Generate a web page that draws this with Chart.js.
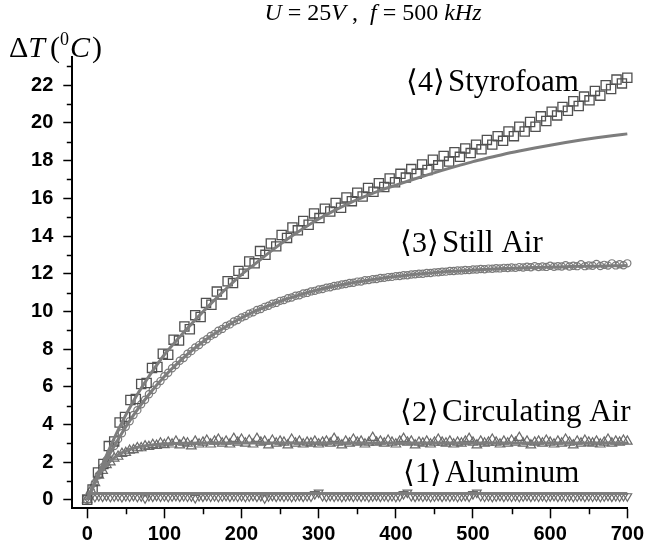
<!DOCTYPE html>
<html>
<head>
<meta charset="utf-8">
<script src="https://cdn.jsdelivr.net/npm/chart.js@4.4.1/dist/chart.umd.min.js"></script>
<style>
  html, body { margin: 0; padding: 0; background: #fff; }
  #wrap { width: 648px; height: 546px; }
</style>
</head>
<body>
<div id="wrap"><canvas id="c" width="648" height="546"></canvas></div>
<script>
// Sampling intervals (s) of the measured series
const STEP_STYRO = 7;
const STEP = 5;

// <4> Styrofoam, measured ΔT every 7 s
const styrofoam = [
  0, 0.55, 1.45, 1.9, 2.85, 3.1, 4.1, 4.4, 5.3, 5.35,
  6.15, 6.2, 7.0, 7.05, 7.75, 7.7, 8.5, 8.45, 9.2, 9.05,
  9.8, 9.7, 10.45, 10.35, 11.05, 10.9, 11.6, 11.5, 12.15, 12.0,
  12.65, 12.55, 13.2, 13.0, 13.6, 13.45, 14.05, 13.9, 14.45, 14.3,
  14.8, 14.6, 15.2, 14.95, 15.45, 15.3, 15.75, 15.5, 16.05, 15.85,
  16.3, 16.1, 16.55, 16.35, 16.8, 16.6, 17.05, 16.85, 17.3, 17.1,
  17.55, 17.3, 17.8, 17.5, 18.05, 17.75, 18.25, 17.95, 18.45, 18.2,
  18.65, 18.4, 18.85, 18.6, 19.1, 18.85, 19.3, 19.05, 19.55, 19.3,
  19.8, 19.55, 20.05, 19.8, 20.35, 20.1, 20.6, 20.4, 20.85, 20.65,
  21.15, 20.9, 21.4, 21.2, 21.7, 21.45, 22.0, 21.8, 22.3, 22.1,
  22.4
];

// <3> Still Air, measured ΔT every 5 s
const stillAir = [
  0, 0.45, 0.9, 1.3, 1.73, 2.1, 2.5, 2.85, 3.22, 3.53,
  3.88, 4.17, 4.5, 4.76, 5.07, 5.31, 5.6, 5.83, 6.1, 6.3,
  6.56, 6.74, 6.98, 7.15, 7.38, 7.53, 7.75, 7.89, 8.09, 8.21,
  8.4, 8.52, 8.7, 8.8, 8.97, 9.07, 9.23, 9.31, 9.46, 9.54,
  9.68, 9.75, 9.88, 9.95, 10.07, 10.13, 10.24, 10.3, 10.41, 10.45,
  10.56, 10.6, 10.7, 10.74, 10.83, 10.86, 10.95, 10.98, 11.06, 11.09,
  11.16, 11.19, 11.26, 11.28, 11.35, 11.37, 11.43, 11.45, 11.51, 11.52,
  11.58, 11.59, 11.65, 11.66, 11.71, 11.72, 11.77, 11.78, 11.82, 11.83,
  11.87, 11.88, 11.92, 11.92, 11.96, 11.97, 12.0, 12.0, 12.04, 12.04,
  12.07, 12.08, 12.1, 12.11, 12.14, 12.14, 12.17, 12.17, 12.2, 12.19,
  12.22, 12.22, 12.25, 12.24, 12.27, 12.26, 12.29, 12.28, 12.31, 12.3,
  12.33, 12.31, 12.35, 12.33, 12.37, 12.34, 12.4, 12.35, 12.38, 12.36,
  12.42, 12.37, 12.4, 12.38, 12.45, 12.38, 12.42, 12.4, 12.5, 12.4,
  12.44, 12.42, 12.52, 12.41, 12.47, 12.43, 12.55, 12.44, 12.5, 12.45,
  12.55
];

// <2> Circulating Air, measured ΔT every 5 s
const circulatingAir = [
  0, 0.5, 0.9, 1.3, 1.55, 1.85, 2.0, 2.2, 2.3, 2.45,
  2.5, 2.62, 2.65, 2.75, 2.75, 2.85, 2.82, 2.92, 2.88, 3.0,
  2.92, 3.05, 2.95, 3.1, 2.9, 3.05, 3.0, 2.85, 3.1, 2.95,
  3.05, 3.15, 2.95, 3.1, 3.2, 3.0, 3.1, 2.95, 3.25, 3.05,
  3.2, 3.0, 3.15, 2.95, 3.25, 3.05, 3.1, 2.9, 3.15, 3.0,
  3.1, 3.05, 2.9, 3.2, 3.0, 3.1, 2.95, 3.05, 3.0, 3.1,
  2.95, 3.05, 3.1, 3.0, 3.25, 3.05, 2.9, 3.1, 3.0, 3.2,
  3.05, 3.1, 2.95, 3.05, 3.3, 3.05, 3.1, 3.0, 3.15, 3.05,
  2.95, 3.1, 3.25, 3.05, 3.1, 2.9, 3.05, 3.0, 3.1, 2.95,
  3.05, 3.2, 3.05, 3.0, 3.1, 2.95, 3.05, 3.0, 3.1, 3.25,
  3.05, 2.9, 3.1, 3.0, 3.05, 3.2, 3.05, 2.95, 3.1, 3.0,
  3.15, 3.05, 3.3, 3.0, 3.1, 2.9, 3.05, 3.1, 3.0, 3.15,
  3.05, 2.95, 3.1, 3.0, 3.2, 3.05, 2.9, 3.1, 3.0, 3.15,
  3.05, 3.0, 3.1, 2.95, 3.05, 3.2, 3.0, 3.1, 3.05, 3.15,
  3.1
];

// <1> Aluminum, measured ΔT every 5 s
const aluminum = [
  0.12, 0.2, 0.16, 0.2, 0.17, 0.21, 0.16, 0.19, 0.2, 0.15,
  0.2, 0.18, 0.21, 0.16, 0.19, 0.08, 0.2, 0.17, 0.21, 0.18,
  0.2, 0.16, 0.19, 0.21, 0.17, 0.2, 0.18, 0.19, 0.1, 0.2,
  0.17, 0.21, 0.18, 0.2, 0.16, 0.19, 0.21, 0.17, 0.2, 0.18,
  0.2, 0.16, 0.19, 0.21, 0.17, 0.2, 0.08, 0.19, 0.21, 0.17,
  0.2, 0.18, 0.2, 0.16, 0.19, 0.21, 0.17, 0.2, 0.18, 0.3,
  0.38, 0.2, 0.17, 0.21, 0.18, 0.2, 0.16, 0.19, 0.21, 0.17,
  0.2, 0.18, 0.2, 0.16, 0.19, 0.21, 0.17, 0.2, 0.18, 0.2,
  0.16, 0.19, 0.3, 0.38, 0.2, 0.17, 0.21, 0.18, 0.2, 0.16,
  0.19, 0.21, 0.17, 0.2, 0.18, 0.2, 0.16, 0.19, 0.21, 0.17,
  0.3, 0.38, 0.2, 0.18, 0.2, 0.16, 0.19, 0.21, 0.17, 0.2,
  0.18, 0.2, 0.16, 0.19, 0.21, 0.17, 0.2, 0.18, 0.2, 0.16,
  0.19, 0.21, 0.17, 0.2, 0.18, 0.2, 0.16, 0.19, 0.21, 0.17,
  0.2, 0.18, 0.2, 0.16, 0.19, 0.21, 0.17, 0.2, 0.18, 0.2,
  0.19
];

// Fitted heating curves (time in s, ΔT in °C)
const fitTime = [0, 20, 40, 60, 80, 100, 120, 140, 160, 180, 200, 220, 240, 260, 280, 300,
  320, 340, 360, 380, 400, 420, 440, 460, 480, 500, 520, 540, 560, 580, 600, 620, 640, 660, 680, 700];
const styrofoamFit = [0, 1.9, 3.7, 5.25, 6.55, 7.7, 8.65, 9.55, 10.4, 11.2, 11.95, 12.6, 13.25, 13.85, 14.4, 14.9,
  15.35, 15.75, 16.1, 16.42, 16.7, 16.97, 17.23, 17.48, 17.72, 17.95, 18.15, 18.34, 18.51, 18.67, 18.82, 18.96, 19.09, 19.21, 19.32, 19.42];
const stillAirFit = [0, 1.72, 3.2, 4.49, 5.59, 6.54, 7.36, 8.07, 8.68, 9.2, 9.66, 10.05, 10.39, 10.68, 10.93, 11.15,
  11.33, 11.49, 11.63, 11.75, 11.85, 11.94, 12.02, 12.09, 12.14, 12.19, 12.23, 12.27, 12.3, 12.33, 12.35, 12.37, 12.39, 12.4, 12.42, 12.43];
const circFitTime = [0, 10, 20, 30, 40, 50, 60, 70, 80, 90, 100, 120, 150, 200, 300, 400, 500, 600, 700];
const circulatingFit = [0, 0.95, 1.6, 2.05, 2.38, 2.6, 2.74, 2.83, 2.89, 2.94, 2.97, 3.0, 3.02, 3.02, 3.02, 3.02, 3.02, 3.02, 3.02];
const aluminumFitTime = [0, 700];
const aluminumFit = [0.33, 0.33];

// Axis ticks
const xTicks = [0, 100, 200, 300, 400, 500, 600, 700];
const xMinorTicks = [50, 150, 250, 350, 450, 550, 650];
const yTicks = [0, 2, 4, 6, 8, 10, 12, 14, 16, 18, 20, 22];
const yMinorTicks = [1, 3, 5, 7, 9, 11, 13, 15, 17, 19, 21, 23];

const sampled = (vals, step) => vals.map((v, i) => ({ x: i * step, y: v }));
const paired = (xs, ys) => xs.map((x, i) => ({ x: x, y: ys[i] }));

const SERIF = '"Liberation Serif", "Times New Roman", serif';
const BRACKET = '"DejaVu Serif", "DejaVu Sans", serif';

const fitStyle = {
  type: 'line', showLine: true, borderColor: '#7d7d7d', borderWidth: 3,
  pointRadius: 0, cubicInterpolationMode: 'monotone', fill: false, order: 0, clip: false
};
const markerStyle = {
  type: 'scatter', backgroundColor: 'rgba(255,255,255,0)', borderWidth: 1.2, order: 1, clip: false
};

function drawRuns(ctx, runs, x, y, align) {
  let w = 0;
  runs.forEach(r => { ctx.font = r.font; w += ctx.measureText(r.text).width + (r.gap || 0); });
  let cx = align === 'center' ? x - w / 2 : x;
  runs.forEach(r => {
    ctx.font = r.font;
    ctx.fillText(r.text, cx, y + (r.dy || 0));
    cx += ctx.measureText(r.text).width + (r.gap || 0);
  });
}

// Series captions: bracketed index and name
const captions = [
  { num: '4', name: 'Styrofoam', x: 406, base: 91 },
  { num: '3', name: 'Still Air', x: 400, base: 252 },
  { num: '2', name: 'Circulating Air', x: 400, base: 421 },
  { num: '1', name: 'Aluminum', x: 403, base: 482 }
];

const textPlugin = {
  id: 'figureText',
  afterDraw(chart) {
    const ctx = chart.ctx;
    ctx.save();
    ctx.fillStyle = '#000';
    ctx.textBaseline = 'alphabetic';
    ctx.textAlign = 'left';
    const it = 'italic 24px ' + SERIF, up = '24px ' + SERIF;
    drawRuns(ctx, [
      { text: 'U', font: it }, { text: ' = 25', font: up }, { text: 'V', font: it },
      { text: ' ,  ', font: up }, { text: 'f', font: it }, { text: ' = 500 ', font: up },
      { text: 'kHz', font: it }
    ], 373, 20, 'center');

    const it2 = 'italic 30px ' + SERIF, up2 = '30px ' + SERIF;
    drawRuns(ctx, [
      { text: '\u0394', font: up2 }, { text: 'T', font: it2, gap: 5 },
      { text: '(', font: up2 }, { text: '0', font: '18px ' + SERIF, dy: -12, gap: 1 },
      { text: 'C', font: it2, gap: 2 }, { text: ')', font: up2 }
    ], 9, 57, 'left');

    captions.forEach(c => {
      ctx.font = '30px ' + BRACKET;
      ctx.fillText('\u27E8', c.x, c.base);
      ctx.font = '30px ' + SERIF;
      ctx.fillText(c.num, c.x + 12, c.base);
      ctx.font = '30px ' + BRACKET;
      ctx.fillText('\u27E9', c.x + 27, c.base);
      ctx.font = '31px ' + SERIF;
      ctx.fillText(c.name, c.x + 42, c.base);
    });
    ctx.restore();
  }
};

const minorTickPlugin = {
  id: 'minorTicks',
  afterDraw(chart) {
    const ctx = chart.ctx, xs = chart.scales.x, ys = chart.scales.y;
    const area = chart.chartArea;
    ctx.save();
    ctx.strokeStyle = '#000';
    ctx.lineWidth = 1.5;
    ctx.beginPath();
    xMinorTicks.forEach(v => {
      const px = Math.round(xs.getPixelForValue(v)) + 0.5;
      ctx.moveTo(px, area.bottom);
      ctx.lineTo(px, area.bottom + 6);
    });
    yMinorTicks.forEach(v => {
      const py = Math.round(ys.getPixelForValue(v)) + 0.5;
      ctx.moveTo(area.left - 5.5, py);
      ctx.lineTo(area.left, py);
    });
    ctx.stroke();
    ctx.restore();
  }
};

const tickFont = { family: '"Liberation Sans", Arial, sans-serif', size: 20, weight: 'bold' };

new Chart(document.getElementById('c'), {
  data: {
    datasets: [
      Object.assign({}, fitStyle, { label: 'Styrofoam fit', data: paired(fitTime, styrofoamFit) }),
      Object.assign({}, fitStyle, { label: 'Still Air fit', data: paired(fitTime, stillAirFit) }),
      Object.assign({}, fitStyle, { label: 'Circulating Air fit', data: paired(circFitTime, circulatingFit) }),
      Object.assign({}, fitStyle, { label: 'Aluminum fit', data: paired(aluminumFitTime, aluminumFit), cubicInterpolationMode: 'default', tension: 0 }),
      Object.assign({}, markerStyle, { label: 'Styrofoam', data: sampled(styrofoam, STEP_STYRO),
        pointStyle: 'rect', pointRadius: 6.5, borderColor: '#505050', borderWidth: 1.3 }),
      Object.assign({}, markerStyle, { label: 'Still Air', data: sampled(stillAir, STEP),
        pointStyle: 'circle', pointRadius: 3.6, borderColor: '#7a7a7a' }),
      Object.assign({}, markerStyle, { label: 'Circulating Air', data: sampled(circulatingAir, STEP),
        pointStyle: 'triangle', pointRadius: 5.5, borderColor: '#6a6a6a' }),
      Object.assign({}, markerStyle, { label: 'Aluminum', data: sampled(aluminum, STEP),
        pointStyle: 'triangle', rotation: 180, pointRadius: 5, borderColor: '#6a6a6a' })
    ]
  },
  options: {
    responsive: false,
    animation: false,
    devicePixelRatio: 1,
    layout: { padding: { top: 57, right: 17.3, left: 0, bottom: 0 } },
    plugins: { legend: { display: false }, tooltip: { enabled: false }, title: { display: false } },
    scales: {
      x: {
        type: 'linear', min: -19.3, max: 700,
        afterBuildTicks: s => { s.ticks = xTicks.map(v => ({ value: v })); },
        afterFit: s => { s.height = 37.7; },
        ticks: { font: tickFont, color: '#000', padding: 4, maxRotation: 0, autoSkip: false },
        grid: { drawOnChartArea: false, drawTicks: true, tickLength: 10, tickWidth: 1.5, tickColor: '#000' },
        border: { display: true, color: '#000', width: 2 }
      },
      y: {
        type: 'linear', min: -0.45, max: 23.5,
        afterBuildTicks: s => { s.ticks = yTicks.map(v => ({ value: v })); },
        afterFit: s => { s.width = 72.3; },
        ticks: { font: tickFont, color: '#000', padding: 10, autoSkip: false },
        grid: { drawOnChartArea: false, drawTicks: true, tickLength: 9, tickWidth: 1.5, tickColor: '#000' },
        border: { display: true, color: '#000', width: 2 }
      }
    }
  },
  plugins: [textPlugin, minorTickPlugin]
});
</script>
</body>
</html>
